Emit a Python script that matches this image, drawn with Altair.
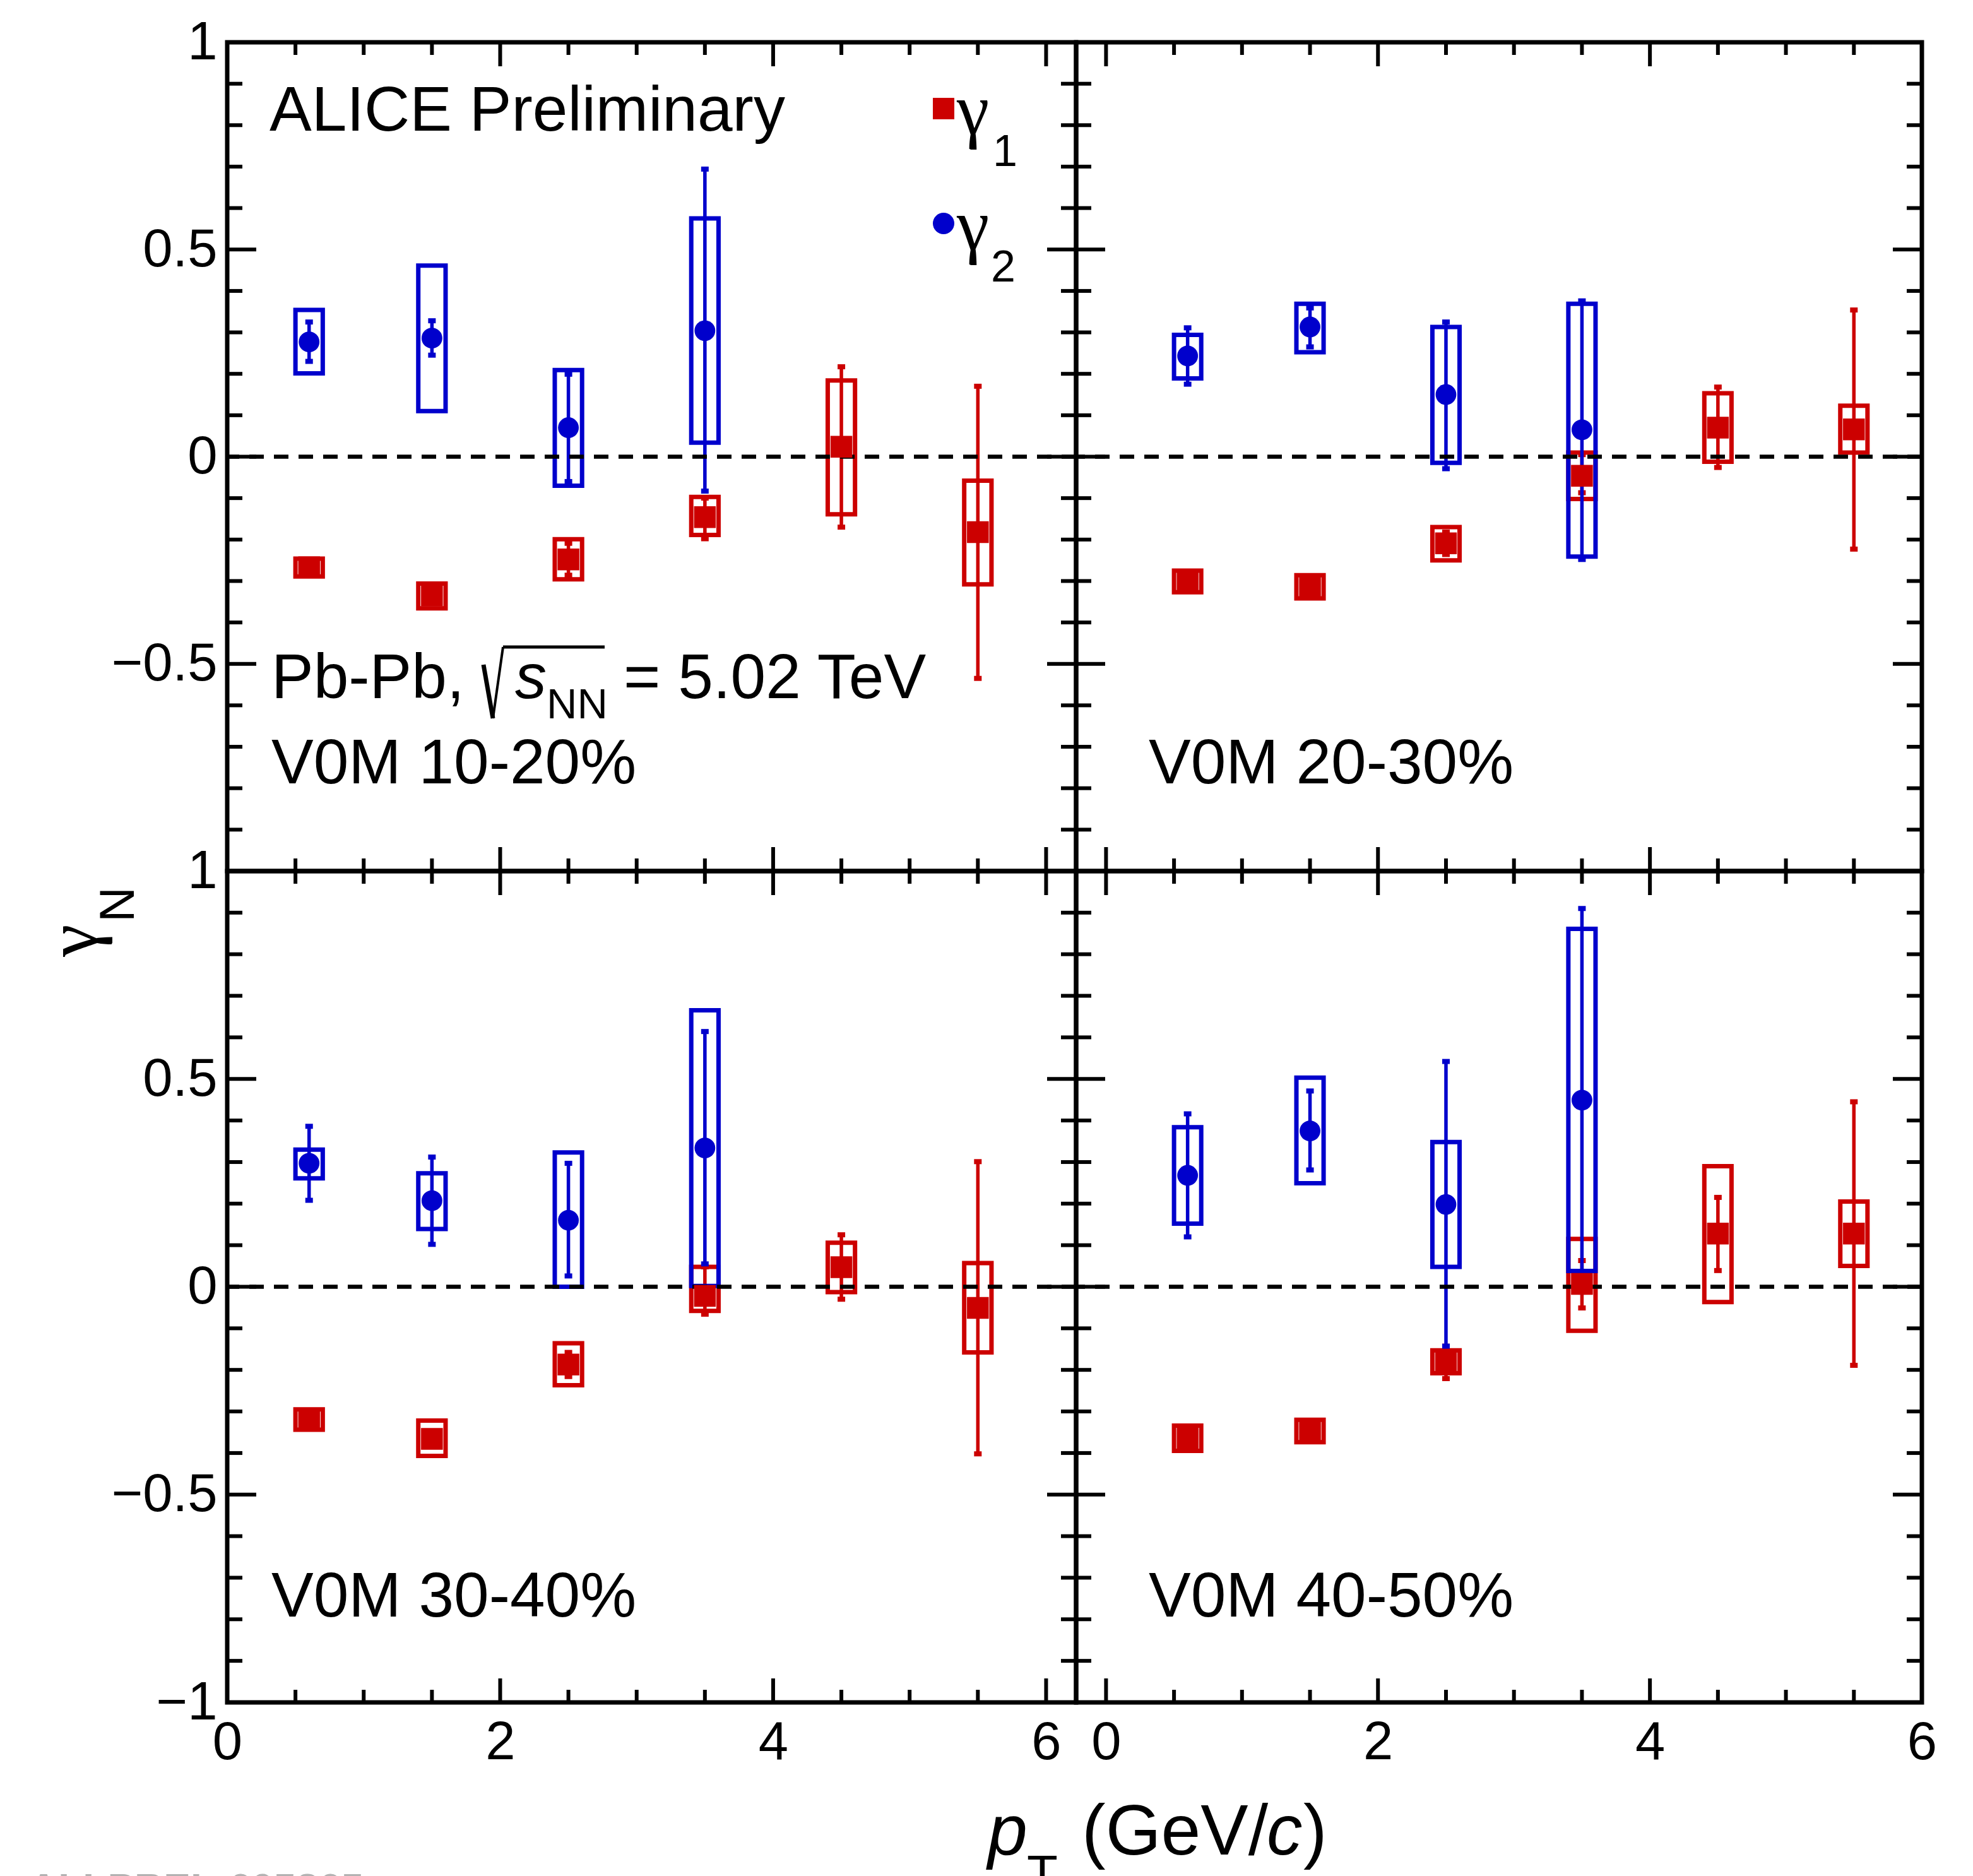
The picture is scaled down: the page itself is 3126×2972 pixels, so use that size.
import altair as alt
import pandas as pd

FONT = "Liberation Sans"
SERIF = "Liberation Serif"
RED = "#cc0000"
BLUE = "#0000cc"

# pT bin centres
pt_g1 = [0.6, 1.5, 2.5, 3.5, 4.5, 5.5]
pt_g2 = [0.6, 1.5, 2.5, 3.5]

# ---------- V0M 10-20% ----------
c1020_g1_val = [-0.267, -0.335, -0.248, -0.146, 0.024, -0.182]
c1020_g1_stlo = [-0.280, -0.350, -0.286, -0.198, -0.170, -0.535]
c1020_g1_sthi = [-0.255, -0.320, -0.209, -0.100, 0.217, 0.170]
c1020_g1_sylo = [-0.289, -0.366, -0.296, -0.189, -0.139, -0.308]
c1020_g1_syhi = [-0.246, -0.306, -0.199, -0.097, 0.184, -0.058]
c1020_g2_val = [0.277, 0.286, 0.070, 0.304]
c1020_g2_stlo = [0.230, 0.245, -0.060, -0.083]
c1020_g2_sthi = [0.325, 0.328, 0.199, 0.694]
c1020_g2_sylo = [0.201, 0.110, -0.070, 0.034]
c1020_g2_syhi = [0.354, 0.461, 0.209, 0.575]

# ---------- V0M 20-30% ----------
c2030_g1_val = [-0.301, -0.313, -0.209, -0.046, 0.070, 0.066]
c2030_g1_stlo = [-0.310, -0.325, -0.236, -0.087, -0.026, -0.223]
c2030_g1_sthi = [-0.290, -0.300, -0.182, 0.005, 0.168, 0.354]
c2030_g1_sylo = [-0.327, -0.342, -0.250, -0.102, -0.012, 0.010]
c2030_g1_syhi = [-0.275, -0.286, -0.170, 0.010, 0.153, 0.123]
c2030_g2_val = [0.243, 0.313, 0.150, 0.065]
c2030_g2_stlo = [0.175, 0.265, -0.029, -0.248]
c2030_g2_sthi = [0.311, 0.359, 0.325, 0.376]
c2030_g2_sylo = [0.189, 0.252, -0.015, -0.241]
c2030_g2_syhi = [0.294, 0.369, 0.313, 0.369]

# ---------- V0M 30-40% ----------
c3040_g1_val = [-0.319, -0.366, -0.187, -0.022, 0.047, -0.051]
c3040_g1_stlo = [-0.330, -0.380, -0.216, -0.066, -0.030, -0.402]
c3040_g1_sthi = [-0.310, -0.350, -0.158, 0.048, 0.125, 0.301]
c3040_g1_sylo = [-0.344, -0.407, -0.237, -0.058, -0.013, -0.158]
c3040_g1_syhi = [-0.295, -0.322, -0.136, 0.048, 0.106, 0.057]
c3040_g2_val = [0.297, 0.207, 0.160, 0.334]
c3040_g2_stlo = [0.208, 0.102, 0.026, 0.055]
c3040_g2_sthi = [0.386, 0.312, 0.297, 0.614]
c3040_g2_sylo = [0.261, 0.139, 0.000, 0.002]
c3040_g2_syhi = [0.330, 0.273, 0.323, 0.665]

# ---------- V0M 40-50% ----------
c4050_g1_val = [-0.364, -0.347, -0.180, 0.007, 0.128, 0.128]
c4050_g1_stlo = [-0.375, -0.360, -0.221, -0.051, 0.039, -0.189]
c4050_g1_sthi = [-0.352, -0.335, -0.143, 0.063, 0.215, 0.445]
c4050_g1_sylo = [-0.395, -0.374, -0.208, -0.106, -0.037, 0.050]
c4050_g1_syhi = [-0.334, -0.320, -0.153, 0.115, 0.290, 0.205]
c4050_g2_val = [0.268, 0.375, 0.198, 0.449]
c4050_g2_stlo = [0.120, 0.281, -0.143, -0.013]
c4050_g2_sthi = [0.416, 0.471, 0.542, 0.910]
c4050_g2_sylo = [0.152, 0.249, 0.048, 0.038]
c4050_g2_syhi = [0.384, 0.503, 0.348, 0.861]

# axis ticks / labels
x_major = [0, 2, 4, 6]
x_minor = [0.5, 1, 1.5, 2.5, 3, 3.5, 4.5, 5, 5.5]
y_major = [-1, -0.5, 0, 0.5, 1]
y_minor = [round(k * 0.1, 1) for k in range(-10, 11) if k % 5 != 0]
y_labels_top = [1, 0.5, 0, -0.5]
y_labels_bottom = [1, 0.5, 0, -0.5, -1]
x_labels = [0, 2, 4, 6]

BOX_HALF = 0.1
DUMMY = pd.DataFrame({"d": [0]})


def txt(s, x, y, size, font=FONT, style="normal", weight="normal",
        color="black", angle=0, align="left"):
    return alt.Chart(DUMMY).mark_text(
        text=s, font=font, fontSize=size, fontStyle=style, fontWeight=weight,
        color=color, angle=angle, align=align, baseline="alphabetic"
    ).encode(x=alt.value(x), y=alt.value(y))


def seg(x1, y1, x2, y2, w):
    return alt.Chart(DUMMY).mark_rule(color="black", strokeWidth=w).encode(
        x=alt.value(x1), y=alt.value(y1), x2=alt.value(x2), y2=alt.value(y2))


def series_layers(xs, vals, stlo, sthi, sylo, syhi, color, shape, xsc, ysc, xax, yax):
    df = pd.DataFrame({"x": xs, "v": vals, "slo": stlo, "shi": sthi,
                       "ylo": sylo, "yhi": syhi})
    df["xl"] = df["x"] - BOX_HALF
    df["xh"] = df["x"] + BOX_HALF
    base = alt.Chart(df)
    X = alt.X("x:Q", scale=xsc, axis=xax)
    box = base.mark_rect(filled=False, color=color, strokeWidth=7).encode(
        x=alt.X("xl:Q", scale=xsc, axis=xax), x2="xh:Q",
        y=alt.Y("ylo:Q", scale=ysc, axis=yax), y2="yhi:Q")
    bar = base.mark_rule(color=color, strokeWidth=5.5).encode(
        x=X, y=alt.Y("slo:Q", scale=ysc, axis=yax), y2="shi:Q")
    cap_lo = base.mark_tick(orient="horizontal", size=12, thickness=8,
                            color=color, opacity=1).encode(
        x=X, y=alt.Y("slo:Q", scale=ysc, axis=yax))
    cap_hi = base.mark_tick(orient="horizontal", size=12, thickness=8,
                            color=color, opacity=1).encode(
        x=X, y=alt.Y("shi:Q", scale=ysc, axis=yax))
    if shape == "square":
        mk = base.mark_square(size=1190, color=color, opacity=1)
    else:
        mk = base.mark_circle(size=1080, color=color, opacity=1)
    mk = mk.encode(x=X, y=alt.Y("v:Q", scale=ysc, axis=yax))
    return [box, bar, cap_lo, cap_hi], mk


def make_panel(g1, g2, W, H, xdom, left, bottom, ylabs, extras):
    xsc = alt.Scale(domain=xdom, nice=False, zero=False)
    ysc = alt.Scale(domain=[-1, 1], nice=False, zero=False)
    yax = alt.Axis(values=ylabs, format="~g", ticks=False, tickSize=0,
                   domain=False, grid=False, labelFont=FONT,
                   labelFontSize=85, labelColor="black", labelPadding=16,
                   labelOverlap=False, labelFlush=False, title=None) if left else None
    xax = alt.Axis(values=x_labels, format="~g", ticks=False, tickSize=0,
                   domain=False, grid=False, labelFont=FONT,
                   labelFontSize=85, labelColor="black", labelPadding=22,
                   labelOverlap=False, labelFlush=False, title=None) if bottom else None

    layers = []
    # ROOT-style inward ticks on all four sides
    for vals, L in [(y_major, 46), (y_minor, 24)]:
        tb = alt.Chart(pd.DataFrame({"t": vals})).mark_rule(color="black", strokeWidth=6)
        layers.append(tb.encode(y=alt.Y("t:Q", scale=ysc, axis=yax),
                                x=alt.value(0), x2=alt.value(L)))
        layers.append(tb.encode(y=alt.Y("t:Q", scale=ysc, axis=yax),
                                x=alt.value(W - L), x2=alt.value(W)))
    for vals, L in [(x_major, 38), (x_minor, 20)]:
        tb = alt.Chart(pd.DataFrame({"t": vals})).mark_rule(color="black", strokeWidth=6)
        layers.append(tb.encode(x=alt.X("t:Q", scale=xsc, axis=xax),
                                y=alt.value(H - L), y2=alt.value(H)))
        layers.append(tb.encode(x=alt.X("t:Q", scale=xsc, axis=xax),
                                y=alt.value(0), y2=alt.value(L)))

    err1, mk1 = series_layers(pt_g1, *g1, RED, "square", xsc, ysc, xax, yax)
    err2, mk2 = series_layers(pt_g2, *g2, BLUE, "circle", xsc, ysc, xax, yax)
    layers += err1 + err2
    zero = alt.Chart(pd.DataFrame({"z": [0.0]})).mark_rule(
        color="black", strokeWidth=6.5, strokeDash=[23, 16]).encode(
        y=alt.Y("z:Q", scale=ysc, axis=yax))
    layers.append(zero)
    layers += [mk1, mk2]
    layers += extras
    return alt.layer(*layers).properties(width=W, height=H)


WL, WR = 1345, 1340
HT, HB = 1313, 1317

tl_extras = [
    txt("ALICE Preliminary", 67, 140, 100),
    alt.Chart(DUMMY).mark_square(size=1156, color=RED, opacity=1).encode(
        x=alt.value(1135), y=alt.value(105)),
    txt("γ", 1156, 145, 116, font=SERIF),
    txt("1", 1213, 196, 70),
    alt.Chart(DUMMY).mark_circle(size=1156, color=BLUE, opacity=1).encode(
        x=alt.value(1135), y=alt.value(287)),
    txt("γ", 1156, 328, 116, font=SERIF),
    txt("2", 1210, 379, 70),
    txt("Pb-Pb,", 70, 1039, 100),
    seg(406, 986, 421, 1071, 7),
    seg(421, 1071, 437, 958, 4),
    seg(437, 958, 598, 958, 5),
    txt("s", 456, 1039, 100, style="italic"),
    txt("NN", 506, 1071, 67),
    txt("= 5.02 TeV", 628, 1039, 100),
    txt("V0M 10-20%", 70, 1174, 100),
]
tr_extras = [txt("V0M 20-30%", 115, 1174, 100)]
bl_extras = [
    txt("V0M 30-40%", 70, 1181, 100),
    txt("γ", -207, 110, 116, font=SERIF, angle=270, align="center"),
    txt("N", -148, 53, 77, angle=270, align="center"),
    txt("p", 1205, 1558, 113, style="italic"),
    txt("T", 1267, 1615, 80),
    txt("(GeV/", 1354, 1558, 113),
    txt("c", 1647, 1558, 113, style="italic"),
    txt(")", 1705, 1558, 113),
    txt("ALI-PREL-605865", -314, 1634, 64, weight="bold", color="#b3b3b3"),
]
br_extras = [txt("V0M 40-50%", 115, 1181, 100)]

tl = make_panel(
    [c1020_g1_val, c1020_g1_stlo, c1020_g1_sthi, c1020_g1_sylo, c1020_g1_syhi],
    [c1020_g2_val, c1020_g2_stlo, c1020_g2_sthi, c1020_g2_sylo, c1020_g2_syhi],
    WL, HT, [0, 6.22], True, False, y_labels_top, tl_extras)
tr = make_panel(
    [c2030_g1_val, c2030_g1_stlo, c2030_g1_sthi, c2030_g1_sylo, c2030_g1_syhi],
    [c2030_g2_val, c2030_g2_stlo, c2030_g2_sthi, c2030_g2_sylo, c2030_g2_syhi],
    WR, HT, [-0.22, 6.0], False, False, y_labels_top, tr_extras)
bl = make_panel(
    [c3040_g1_val, c3040_g1_stlo, c3040_g1_sthi, c3040_g1_sylo, c3040_g1_syhi],
    [c3040_g2_val, c3040_g2_stlo, c3040_g2_sthi, c3040_g2_sylo, c3040_g2_syhi],
    WL, HB, [0, 6.22], True, True, y_labels_bottom, bl_extras)
br = make_panel(
    [c4050_g1_val, c4050_g1_stlo, c4050_g1_sthi, c4050_g1_sylo, c4050_g1_syhi],
    [c4050_g2_val, c4050_g2_stlo, c4050_g2_sthi, c4050_g2_sylo, c4050_g2_syhi],
    WR, HB, [-0.22, 6.0], False, True, y_labels_bottom, br_extras)

chart = alt.concat(tl, tr, bl, br, columns=2, spacing=0, bounds="flush").configure_view(
    stroke="black", strokeWidth=7
).properties(
    padding={"left": 34, "top": 13, "right": 5, "bottom": 0},
    background="white",
)

chart.save("out.html", embed_options={"renderer": "svg", "actions": False})
